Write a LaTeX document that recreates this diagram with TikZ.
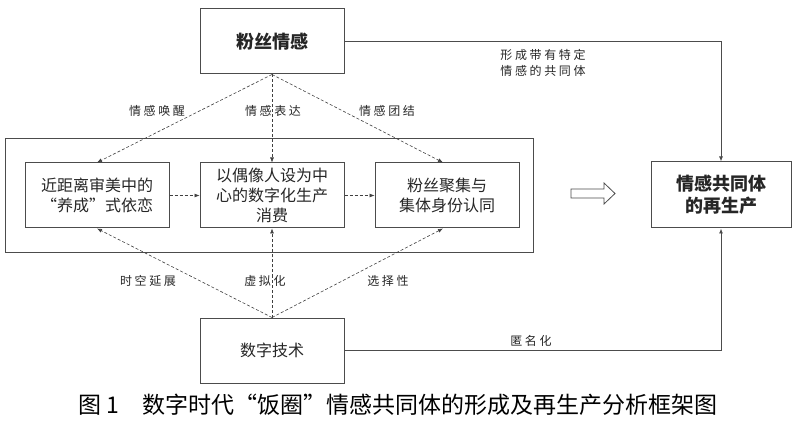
\documentclass[tikz,border=0pt]{standalone}
\usepackage{fontspec}
\setmainfont{Noto Sans CJK SC}
\newfontfamily\lblfont[LetterSpace=22]{Noto Sans CJK SC}
\usetikzlibrary{arrows.meta}

\tikzset{
  frame/.style={draw=black!70, line width=1pt, minimum width=144pt, minimum height=65pt,
    align=center, text=black!85, font=\fontsize{16}{20}\selectfont, inner sep=2pt},
  flow/.style={densely dashed, draw=black!75, line width=0.6pt, -{Latex[length=5pt,width=4pt]}},
  solidflow/.style={draw=black!70, line width=0.9pt, -{Latex[length=5pt,width=4pt]}},
  tag/.style={text=black!85, font=\lblfont\fontsize{12}{16}\selectfont, align=center}
}

\begin{document}
\begin{tikzpicture}[x=1pt,y=-1pt]
\useasboundingbox (0,0) rectangle (800,438);

% boxes
\node[frame, font=\bfseries\fontsize{18}{22}\selectfont] (fan) at (272,41.5) {粉丝情感};
\node[frame] (dep) at (97,195.5) {近距离审美中的\\“养成”式依恋};
\node[frame] (cons) at (272,195.5) {以偶像人设为中\\心的数字化生产\\消费};
\node[frame] (iden) at (447,195.5) {粉丝聚集与\\集体身份认同};
\node[frame, minimum width=140pt, minimum height=66pt, font=\bfseries\fontsize{18}{22}\selectfont] (comm) at (721,195) {情感共同体\\的再生产};
\node[frame] (tech) at (272,350.5) {数字技术};
\draw[black!70, line width=1pt] (5,139) rectangle (533,253);

% emotion side
\draw[flow] (fan.south) -- (dep.north);
\draw[flow] (fan.south) -- (cons.north);
\draw[flow] (fan.south) -- ([xshift=-4pt]iden.north);
\node[tag] (l1) at (157,111) {情感唤醒};
\node[tag] (l2) at (273,111) {情感表达};
\node[tag] (l3) at (387,111) {情感团结};

% technology side
\draw[flow] (tech.north) -- (dep.south);
\draw[flow] (tech.north) -- (cons.south);
\draw[flow] (tech.north) -- ([xshift=-4pt]iden.south);
\node[tag] (l4) at (148,281) {时空延展};
\node[tag] (l5) at (265,281) {虚拟化};
\node[tag] (l6) at (388,281) {选择性};

% inside the frame
\draw[flow] (dep.east) -- (cons.west);
\draw[flow] (cons.east) -- (iden.west);

% hollow arrow
\draw[black!70, line width=0.8pt, fill=white]
  (571,189) -- (604,189) -- (604,183) -- (615,193.5) -- (604,204) -- (604,198) -- (571,198) -- cycle;

% to the community
\draw[solidflow] (fan.east) -| (comm.north);
\node[tag] (l7) at (543,63) {形成带有特定\\情感的共同体};
\draw[solidflow] (tech.east) -| (comm.south);
\node[tag] (l8) at (531,341) {匿名化};

% caption
\node[font=\fontsize{23}{26}\selectfont, anchor=west] (cap) at (75,405) {图 1\hspace{1em}数字时代“饭圈”情感共同体的形成及再生产分析框架图};
\end{tikzpicture}
\end{document}
